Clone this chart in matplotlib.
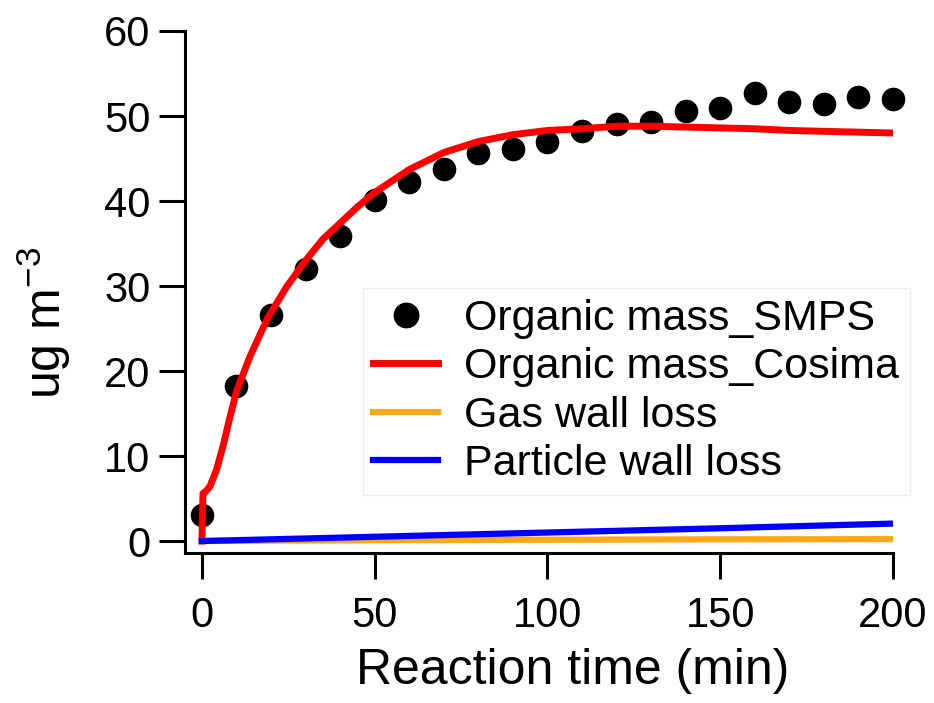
import matplotlib
matplotlib.use("Agg")
import matplotlib.pyplot as plt

plt.rcParams['font.family'] = ['Liberation Sans', 'DejaVu Sans']
plt.rcParams['mathtext.fontset'] = 'custom'
plt.rcParams['mathtext.rm'] = 'Liberation Sans'
plt.rcParams['mathtext.default'] = 'regular'

# SMPS measurements (every 10 min)
smps_time = [0, 10, 20, 30, 40, 50, 60, 70, 80, 90, 100,
             110, 120, 130, 140, 150, 160, 170, 180, 190, 200]
smps_mass = [3.1, 18.2, 26.6, 32.0, 35.9, 40.1, 42.2, 43.8, 45.7, 46.1, 46.9,
             48.2, 49.1, 49.3, 50.6, 50.9, 52.7, 51.6, 51.4, 52.2, 52.0]

# Cosima model output
model_time = [0, 0.3, 1, 2.3, 4.2, 6.2, 8, 10, 14, 19, 24.5, 30, 35, 40, 45, 50,
              60, 70, 80, 90, 100, 110, 120, 130, 140, 150, 160, 170, 180, 190, 200]
model_mass = [0, 5.6, 5.8, 6.4, 8.35, 11.3, 14.4, 17.6, 21.8, 26.2, 29.9, 33.0, 35.5,
              37.4, 39.3, 41.0, 43.7, 45.7, 47.0, 47.8, 48.3, 48.5, 48.8, 48.8, 48.7,
              48.6, 48.5, 48.3, 48.2, 48.1, 48.0]

# wall losses
loss_time = [0, 50, 100, 150, 200]
gas_wall = [0, 0.1, 0.15, 0.2, 0.22]
particle_wall = [0, 0.5, 1.0, 1.5, 2.05]

fig = plt.figure(figsize=(9.34, 7.03), dpi=100)
ax = fig.add_axes([185 / 934, 1 - 553 / 703, 708 / 934, 522 / 703])

ax.plot(smps_time, smps_mass, 'o', color='black', ms=16, clip_on=False,
        label='Organic mass_SMPS')
ax.plot(model_time, model_mass, color='#ff0000', lw=5, label='Organic mass_Cosima')
ax.plot(loss_time, gas_wall, color='#f9a81a', lw=4.5, label='Gas wall loss')
ax.plot(loss_time, particle_wall, color='#0000ff', lw=4.5, label='Particle wall loss')

ax.set_xlim(-4.9, 200)
ax.set_ylim(-1.41, 60)
ax.set_xticks([0, 50, 100, 150, 200])
ax.set_yticks([0, 10, 20, 30, 40, 50, 60])

for side in ['top', 'right']:
    ax.spines[side].set_visible(False)
for side in ['left', 'bottom']:
    ax.spines[side].set_linewidth(2.2)

ax.tick_params(axis='both', direction='out', length=19, width=2.2, labelsize=30)
ax.tick_params(axis='x', pad=12)
ax.tick_params(axis='y', pad=6)

ax.set_xlabel('Reaction time (min)', fontsize=36)
ax.xaxis.set_label_coords(0.548, -0.182)
ax.set_ylabel('ug m$^{-3}$', fontsize=36)
ax.yaxis.set_label_coords(-0.158, 0.44)

leg = ax.legend(loc='upper left', bbox_to_anchor=(0.251, 0.508), fontsize=31,
                handlelength=1.5, handletextpad=0.6, labelspacing=0.2,
                borderpad=0.25, borderaxespad=0, markerscale=1.1,
                fancybox=False, framealpha=1, edgecolor='#eeeeee')
leg.get_frame().set_linewidth(1)

fig.savefig('out.png', dpi=100)
